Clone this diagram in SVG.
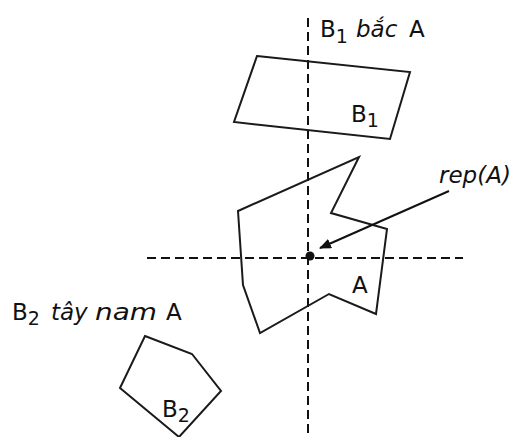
<svg xmlns="http://www.w3.org/2000/svg" width="526" height="437" viewBox="0 0 526 437">
<style>
.sh{fill:none;stroke:#1a1a1a;stroke-width:2;stroke-linejoin:miter}
.ax{fill:none;stroke:#111;stroke-width:2;stroke-dasharray:9 5}
.t{font-family:"DejaVu Sans",Verdana,sans-serif;font-size:23px;fill:#111}
.i{font-style:italic}
.s{font-size:19px}
</style>
<defs>
<marker id="ah" markerWidth="12" markerHeight="10" refX="11" refY="5" orient="auto" markerUnits="userSpaceOnUse">
<path d="M0,0 L12,5 L0,10 Z" fill="#111"/>
</marker>
</defs>
<rect width="526" height="437" fill="#fff"/>
<g id="axes">
<line class="ax" x1="308" y1="18" x2="308" y2="437"/>
<line class="ax" x1="147" y1="258" x2="463" y2="258"/>
</g>
<g id="B1">
<polygon class="sh" points="257,56 410,72 390,139 234,122"/>
<text class="t" x="351" y="122">B<tspan class="s" dy="5">1</tspan></text>
</g>
<g id="A">
<polygon class="sh" points="238,211 359,157 331,213 387,229 376,314 329,294 260,333 243,285"/>
<circle cx="310" cy="256" r="4.5" fill="#111"/>
<text class="t" x="352" y="293">A</text>
</g>
<g id="B2">
<polygon class="sh" points="145,336 192,354 221,391 179,437 120,388"/>
<text class="t" x="162" y="417">B<tspan class="s" dy="5">2</tspan></text>
</g>
<g id="connectors">
<line x1="449" y1="191" x2="320" y2="248" stroke="#111" stroke-width="2" marker-end="url(#ah)"/>
</g>
<g id="labels">
<text class="t" x="320" y="37">B<tspan class="s" dy="6">1</tspan><tspan class="i" x="356" y="37">bắc</tspan><tspan x="409">A</tspan></text>
<text class="t i" x="439" y="183">rep(A)</text>
<text class="t" x="12" y="320">B<tspan class="s" dy="5">2</tspan><tspan class="i" x="51" y="320">tây</tspan></text>
<text class="t i" x="95" y="320" textLength="62" lengthAdjust="spacingAndGlyphs">nam</text>
<text class="t" x="166" y="320">A</text>
</g>
</svg>
